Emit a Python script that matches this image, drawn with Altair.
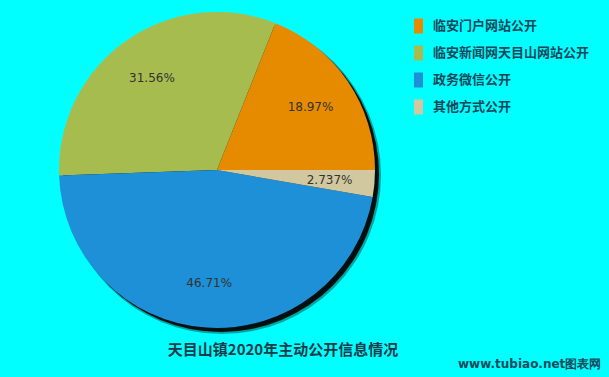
import math
import altair as alt
import pandas as pd

categories = ["临安门户网站公开", "临安新闻网天目山网站公开", "政务微信公开", "其他方式公开"]
values = [18.97, 31.56, 46.71, 2.737]
labels = ["18.97%", "31.56%", "46.71%", "2.737%"]
order = [4, 3, 2, 1]
colors = ["#E68A00", "#A6BC4F", "#1E90D8", "#D2C8A0"]
title_text = "天目山镇2020年主动公开信息情况"
watermark = "www.tubiao.net图表网"

CX, CY, R = 217, 170, 158

df = pd.DataFrame({"cat": categories, "val": values, "lab": labels, "ord": order})
one = pd.DataFrame({"t": [title_text], "w": [watermark]})

theta_scale = alt.Scale(range=[math.pi / 2, math.pi / 2 + 2 * math.pi])

shadow2 = alt.Chart(one).mark_arc(color="black", opacity=0.35, outerRadius=R + 1,
                                  theta=0, theta2=2 * math.pi).encode(
    x=alt.value(CX + 5), y=alt.value(CY + 5))
shadow = alt.Chart(one).mark_arc(color="black", opacity=0.9, outerRadius=R,
                                 theta=0, theta2=2 * math.pi).encode(
    x=alt.value(CX + 4), y=alt.value(CY + 4))

pie = alt.Chart(df).mark_arc(outerRadius=R).encode(
    x=alt.value(CX), y=alt.value(CY),
    theta=alt.Theta("val:Q", stack=True, scale=theta_scale),
    order=alt.Order("ord:Q"),
    color=alt.Color("cat:N", sort=categories,
                    scale=alt.Scale(domain=categories, range=colors),
                    legend=alt.Legend(
                        title=None, orient="none", legendX=411, legendY=18.5,
                        symbolType="M-0.6,-1H0.6V1H-0.6Z", symbolSize=225,
                        symbolStrokeWidth=0, symbolOpacity=1,
                        labelFont="Noto Sans CJK SC", labelFontWeight="bold",
                        labelFontSize=13, labelColor="#15475A", labelOffset=7,
                        rowPadding=12, padding=0, labelLimit=300)),
)

text = alt.Chart(df).mark_text(radius=113, font="DejaVu Sans", fontSize=12,
                               color="#333333").encode(
    x=alt.value(CX), y=alt.value(CY),
    theta=alt.Theta("val:Q", stack=True, scale=theta_scale),
    order=alt.Order("ord:Q"),
    text="lab:N",
)

title = alt.Chart(one).mark_text(font="Noto Sans CJK SC", fontWeight="bold",
                                 fontSize=15, color="#1E3A48").encode(
    x=alt.value(283), y=alt.value(350), text="t:N")

wm = alt.Chart(one).mark_text(font="DejaVu Sans", fontWeight="bold",
                              fontSize=12, color="#174A5C", align="left").encode(
    x=alt.value(458), y=alt.value(364), text="w:N")

chart = alt.layer(shadow2, shadow, pie, text, title, wm).properties(
    width=609, height=377, background="#00FFFF", padding=0,
    autosize=alt.AutoSizeParams(type="none"),
).configure_view(stroke=None)

chart.save("out.html", embed_options={"renderer": "svg", "actions": False})
